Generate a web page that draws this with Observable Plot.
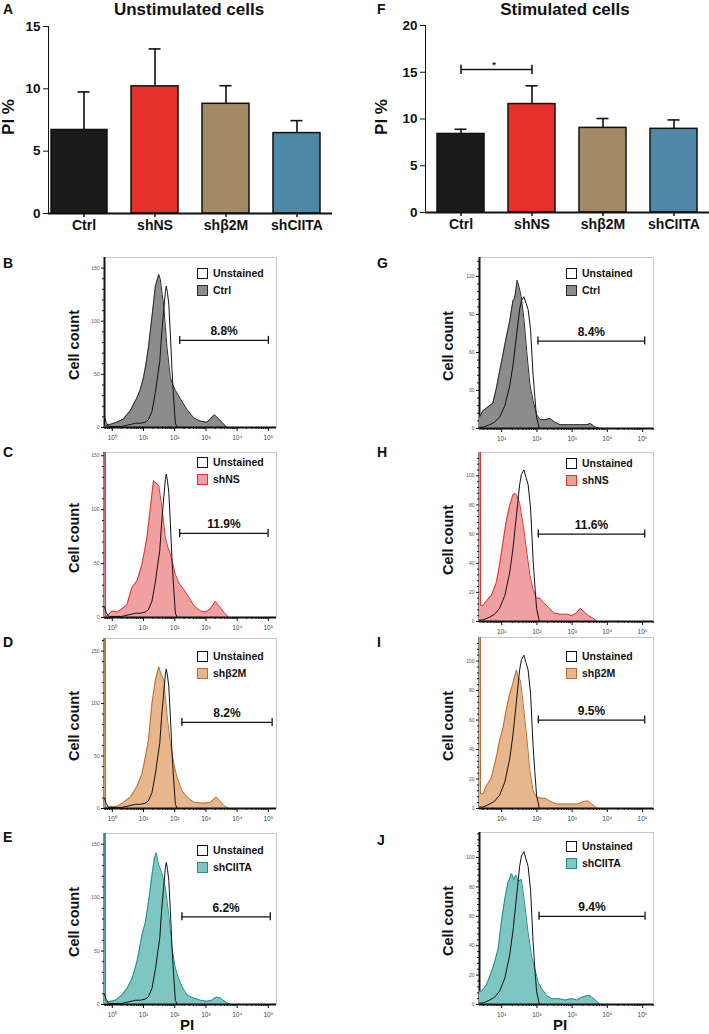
<!DOCTYPE html>
<html><head><meta charset="utf-8">
<script src="https://cdn.jsdelivr.net/npm/d3@7"></script>
<script src="https://cdn.jsdelivr.net/npm/@observablehq/plot@0.6"></script>
<style>
body{margin:0;background:#fff;font-family:"Liberation Sans",Arial,Helvetica,sans-serif;}
#fig{position:relative;width:709px;height:1034px;overflow:hidden;background:#fff;}
.t{position:absolute;font-weight:bold;color:#111;white-space:nowrap;line-height:1.2;}
.rot{transform:translate(-50%,-50%) rotate(-90deg);}
.ctr{transform:translate(-50%,-50%);}
.hc{transform:translateX(-50%);}
.leg{position:absolute;font-weight:bold;font-size:10.5px;color:#111;line-height:1;}
.leg .row{display:flex;align-items:center;height:11px;margin-bottom:6px;}
.leg .sw{width:9px;height:9px;border:1.5px solid #111;margin-right:5px;}
</style></head><body><div id="fig"></div>
<script>
// ---------------- DATA ----------------
const groups = ["Ctrl", "shNS", "shβ2M", "shCIITA"];
const barColors = ["#1b1b1b", "#e4312b", "#a38a67", "#4f87a7"];
const unstimMean = [6.7, 10.2, 8.8, 6.45];
const unstimSem = [3.05, 3.0, 1.45, 1.0];
const stimMean = [8.4, 11.6, 9.05, 8.95];
const stimSem = [0.5, 1.95, 1.0, 0.95];
const sigPair = ["Ctrl", "shNS"];
const sigLevel = 15.3;
const sigText = "*";

// histogram series: [log10(PI), cell count]
const unstainedUnstim = [[-0.25,10],[-0.2,5],[-0.12,1],[0.3,1],[0.6,3],[0.75,4],[0.9,4],[1.05,5],[1.15,7],[1.27,15],[1.38,33],[1.46,50],[1.52,62],[1.58,88],[1.64,108],[1.70,128],[1.73,133],[1.77,126],[1.81,116],[1.86,88],[1.91,55],[1.96,30],[2.02,4],[2.08,0]];
const ctrlUnstim = [[-0.25,2],[-0.22,2],[-0.06,3],[0.15,5],[0.36,8],[0.58,16],[0.79,28],[0.9,36],[1.0,47],[1.08,60],[1.16,76],[1.27,104],[1.38,133],[1.49,144],[1.54,139],[1.6,125],[1.65,114],[1.7,95],[1.75,76],[1.86,47],[1.94,40],[2.02,35],[2.18,27],[2.39,17],[2.61,9],[2.82,6],[3.03,5],[3.14,8],[3.27,12],[3.41,8],[3.57,3],[3.68,0]];
const shNSUnstim = [[-0.25,300],[-0.235,300],[-0.22,2],[-0.17,1.5],[-0.01,6],[0.15,5],[0.31,8],[0.47,12],[0.63,28],[0.79,34],[0.95,49],[1.11,74],[1.22,102],[1.32,127],[1.36,125],[1.40,125],[1.49,122],[1.59,102],[1.70,74],[1.78,65],[1.86,59],[2.02,40],[2.13,32],[2.29,26],[2.45,19],[2.61,11],[2.82,6],[2.98,5],[3.14,8],[3.30,15],[3.41,11],[3.57,5],[3.73,0]];
const shB2MUnstim = [[-0.25,300],[-0.235,300],[-0.22,1],[-0.12,2],[0.15,2],[0.36,6],[0.58,11],[0.79,21],[0.95,33],[1.06,49],[1.16,65],[1.27,100],[1.38,122],[1.49,135],[1.56,128],[1.65,122],[1.75,90],[1.86,62],[1.97,43],[2.07,30],[2.23,17],[2.39,11],[2.61,6],[2.93,5],[3.14,6],[3.33,11],[3.45,7],[3.57,3],[3.73,0]];
const shCIITAUnstim = [[-0.25,300],[-0.235,300],[-0.22,3],[-0.12,2.5],[0.10,4],[0.31,9],[0.47,15],[0.63,24],[0.79,40],[0.95,65],[1.06,77],[1.16,96],[1.27,121],[1.35,137],[1.41,142],[1.48,131],[1.59,123],[1.70,109],[1.81,84],[1.91,53],[2.02,34],[2.13,24],[2.23,17],[2.39,9],[2.61,6],[2.82,4],[3.03,3],[3.19,4],[3.33,7],[3.46,6],[3.62,2.5],[3.78,0]];

const unstainedStim = [[0.37,1],[0.47,1],[0.66,3],[0.80,5],[0.94,9],[1.09,18],[1.23,34],[1.32,50],[1.42,73],[1.51,94],[1.56,101],[1.63,104],[1.69,99],[1.75,94],[1.82,78],[1.89,43],[1.94,25],[1.99,9],[2.07,0]];
const ctrlStim = [[0.37,9],[0.47,14],[0.61,17],[0.75,20],[0.85,32],[0.94,45],[1.04,59],[1.13,72],[1.23,85],[1.32,101],[1.37,103],[1.44,117],[1.50,111],[1.56,103],[1.63,87],[1.71,61],[1.80,35],[1.89,22],[1.99,11],[2.09,7],[2.23,7],[2.37,8],[2.51,5],[2.66,3],[2.85,3],[3.04,3],[3.23,3],[3.42,3],[3.51,4],[3.66,1],[3.80,0]];
const shNSStim = [[0.37,300],[0.385,300],[0.40,11],[0.47,11],[0.56,14],[0.71,18],[0.85,27],[0.94,39],[1.04,55],[1.13,69],[1.23,80],[1.32,87],[1.38,88],[1.42,87],[1.47,84],[1.51,81],[1.61,66],[1.71,48],[1.80,32],[1.89,22],[1.99,16],[2.09,16],[2.18,13],[2.32,10],[2.47,6],[2.66,5],[2.85,5],[2.99,4],[3.13,6],[3.23,9],[3.32,7],[3.47,4],[3.61,2],[3.71,0]];
const shB2MStim = [[0.37,300],[0.385,300],[0.40,10],[0.47,10],[0.56,15],[0.71,21],[0.85,35],[0.94,46],[1.04,55],[1.13,67],[1.23,78],[1.32,85],[1.42,94],[1.47,89],[1.53,87],[1.61,71],[1.71,49],[1.80,26],[1.89,12],[1.99,8],[2.09,7],[2.23,7],[2.37,5],[2.56,3],[2.85,3],[3.13,3],[3.37,5],[3.46,5],[3.56,3],[3.71,0]];
const shCIITAStim = [[0.37,9],[0.42,9],[0.56,13],[0.71,22],[0.80,29],[0.90,38],[0.99,56],[1.09,72],[1.18,83],[1.28,89],[1.34,85],[1.40,88],[1.47,84],[1.56,85],[1.66,67],[1.75,49],[1.85,33],[1.94,24],[2.04,15],[2.13,11],[2.28,6],[2.42,4],[2.61,4],[2.80,3],[2.99,4],[3.13,3],[3.28,5],[3.42,6],[3.51,6],[3.66,3],[3.80,0]];

const histFill = ["#8c8c8c", "#f0a0a0", "#e8b68c", "#7ec6c1"];
const histStroke = ["#2a2a2a", "#e2312b", "#b86e2a", "#1f8f8a"];
const unstimGatePct = ["8.8%", "11.9%", "8.2%", "6.2%"];
const stimGatePct = ["8.4%", "11.6%", "9.5%", "9.4%"];
const unstimGateLo = [2.16, 2.16, 2.23, 2.23];
const unstimGateHi = [5.0, 4.99, 5.12, 5.06];
const unstimGateY = [82, 78, 82, 82];
const stimGateLo = [2.03, 2.04, 2.04, 2.06];
const stimGateHi = [5.06, 5.06, 5.06, 5.07];
const stimGateY = [69, 60, 60, 60];
const unstimYMax = [160, 153, 162, 160];
const stimYMax = [135, 116, 116, 117];
const unstimYTicks = [0, 50, 100, 150];
const stimYTicksG = [0, 30, 60, 90, 120];
const stimYTicks = [0, 20, 40, 60, 80, 100];

// ---------------- LAYOUT ----------------
const FONT = '"Liberation Sans", Arial, Helvetica, sans-serif';
const fig = document.getElementById("fig");
function put(node, left, top) {
  node.style.position = "absolute"; node.style.left = left + "px"; node.style.top = top + "px";
  fig.appendChild(node); return node;
}
function txt(s, left, top, size, cls) {
  const d = document.createElement("div"); d.className = "t " + (cls || "");
  d.textContent = s; d.style.fontSize = size + "px"; return put(d, left, top);
}
const SUP = {"-1": "⁻¹", "0": "⁰", "1": "¹", "2": "²", "3": "³", "4": "⁴", "5": "⁵"};

function barPlot(means, sems, yMax, yTicks, opts) {
  const rows = groups.map((g, i) => ({group: g, mean: means[i], top: means[i] + sems[i]}));
  const marks = [
    Plot.ruleX(rows, {x: "group", y1: "mean", y2: "top", stroke: "#111", strokeWidth: 1.6}),
    Plot.tickY(rows, {x: "group", y: "top", stroke: "#111", strokeWidth: 1.6, insetLeft: 17.5, insetRight: 17.5}),
  ];
  if (opts.widenFirst) {
    marks.push(Plot.barY(rows.filter(d => d.group === groups[0]), {x: "group", y: "mean", fill: "group", stroke: "#111", strokeWidth: 1.5, insetLeft: -opts.widenFirst}));
    marks.push(Plot.barY(rows.filter(d => d.group !== groups[0]), {x: "group", y: "mean", fill: "group", stroke: "#111", strokeWidth: 1.5}));
  } else {
    marks.push(Plot.barY(rows, {x: "group", y: "mean", fill: "group", stroke: "#111", strokeWidth: 1.5}));
  }
  if (opts.sig) {
    marks.push(Plot.link([0], {x1: () => sigPair[0], x2: () => sigPair[1], y1: sigLevel, y2: sigLevel, stroke: "#111", strokeWidth: 1.5}));
    marks.push(Plot.ruleX(sigPair, {x: d => d, y1: sigLevel - 0.55, y2: sigLevel + 0.45, stroke: "#111", strokeWidth: 1.5}));
    marks.push(Plot.text([sigText], {x: () => sigPair[0], y: sigLevel, dx: 33, dy: -4, fontSize: 9, fill: "#111"}));
  }
  marks.push(Plot.ruleY([0], {stroke: "#111", strokeWidth: 1.8}));
  marks.push(Plot.axisX({tickSize: 4, tickPadding: 3, fontSize: 14, fontWeight: "bold", label: null, stroke: "#111", strokeWidth: 1.5}));
  return Plot.plot({
    width: opts.width, height: 221,
    marginLeft: 40, marginRight: opts.width - 40 - 284, marginTop: 10, marginBottom: 24,
    x: {domain: groups, paddingInner: 0.34, paddingOuter: 0.17, label: null},
    y: {domain: [0, yMax], ticks: yTicks, label: null, tickSize: 5, tickPadding: 3, line: true},
    color: {domain: groups, range: barColors},
    style: {fontFamily: FONT, fontSize: "13.5px", fontWeight: "bold", color: "#111", background: "transparent", overflow: "visible"},
    marks
  });
}

function histPlot(c) {
  const mL = 30, mR = 2, mT = 2, mB = 24;
  const majors = [], minors = [];
  for (let e = Math.floor(c.lo); e <= Math.ceil(c.hi); e++) {
    if (e >= c.lo && e <= c.hi) majors.push(10 ** e);
    for (let k = 2; k <= 9; k++) {
      const l = Math.log10(k * 10 ** e);
      if (l >= c.lo && l <= c.hi) minors.push(k * 10 ** e);
    }
  }
  const yMinor = d3.range(0, c.yMax, c.ySub).filter(v => !c.yTicks.includes(v));
  const X = d => 10 ** d[0], Y = d => d[1];
  return Plot.plot({
    width: mL + c.w + mR, height: mT + c.h + mB,
    marginLeft: mL, marginRight: mR, marginTop: mT, marginBottom: mB,
    x: {type: "log", domain: [10 ** c.lo, 10 ** c.hi]},
    y: {domain: [0, c.yMax]},
    style: {fontFamily: FONT, background: "transparent", overflow: "visible"},
    marks: [
      Plot.frame({stroke: "#c8c8c8", strokeWidth: 1}),
      Plot.ruleX([10 ** c.lo], {stroke: "#111", strokeWidth: 2}),
      Plot.areaY(c.sample, {x: X, y: Y, fill: c.fill, curve: "linear", clip: true}),
      Plot.lineY(c.sample, {x: X, y: Y, stroke: c.stroke, strokeWidth: 1, clip: true}),
      Plot.lineY(c.unstained, {x: X, y: Y, stroke: "#111", strokeWidth: 1, clip: true}),
      Plot.ruleY([0], {stroke: "#111", strokeWidth: 1.8}),
      Plot.axisY({ticks: c.yTicks, tickSize: 3, tickPadding: 2, fontSize: 5, fill: "#555", stroke: "#111", label: null}),
      Plot.axisY({ticks: yMinor, tickSize: 2, tickFormat: () => "", stroke: "#111", label: null}),
      Plot.axisX({ticks: majors, tickSize: 4, tickPadding: 4, fontSize: 6.5, fill: "#444", stroke: "#111", label: null,
        tickFormat: v => "10" + SUP[String(Math.round(Math.log10(v)))]}),
      Plot.axisX({ticks: minors, tickSize: 2, tickFormat: () => "", stroke: "#111", label: null}),
      Plot.ruleY([c.gY], {x1: 10 ** c.gLo, x2: 10 ** c.gHi, stroke: "#111", strokeWidth: 1.3}),
      Plot.ruleX([c.gLo, c.gHi], {x: d => 10 ** d, y1: c.gY, y2: c.gY, insetTop: -4, insetBottom: -4, stroke: "#111", strokeWidth: 1.3}),
      Plot.text([c.gText], {x: 10 ** ((c.gLo + c.gHi) / 2), y: c.gY, dy: -9, fontSize: 12, fontWeight: "bold", fill: "#111"})
    ]
  });
}

function legend(sample, fill, stroke, left, top) {
  const d = document.createElement("div"); d.className = "leg";
  d.innerHTML = `<div class="row"><div class="sw" style="background:#fff"></div><span>Unstained</span></div>` +
    `<div class="row"><div class="sw" style="background:${fill};border-color:${stroke}"></div><span>${sample}</span></div>`;
  put(d, left, top);
}

// ---- bar charts ----
put(barPlot(unstimMean, unstimSem, 15, [0, 5, 10, 15], {width: 326, widenFirst: 9}), 8, 16);
put(barPlot(stimMean, stimSem, 20, [0, 5, 10, 15, 20], {width: 324, sig: true}), 385, 15);
txt("A", 3, 1, 14); txt("F", 377, 1, 14);
txt("Unstimulated cells", 189, 0, 17, "hc");
txt("Stimulated cells", 565, 0, 17, "hc");
txt("PI %", 9, 117, 17, "rot"); txt("PI %", 382, 117, 17, "rot");

// ---- histograms ----
const leftSamples = [ctrlUnstim, shNSUnstim, shB2MUnstim, shCIITAUnstim];
const rightSamples = [ctrlStim, shNSStim, shB2MStim, shCIITAStim];
const leftRows = [[257, 427], [452, 617], [638, 808], [833, 1004]];
const rightRows = [[257, 428], [452, 621], [637, 808], [832, 1004]];
const leftLetters = ["B", "C", "D", "E"], rightLetters = ["G", "H", "I", "J"];
const leftLetterTop = [255, 444, 634, 829], rightLetterTop = [255, 444, 634, 832];
const leftLegTop = [268, 457, 651, 845], rightLegTop = [268, 458, 651, 841];

for (let i = 0; i < 4; i++) {
  const [t, b] = leftRows[i];
  put(histPlot({lo: -0.25, hi: 5.26, w: 172, h: b - t, yMax: unstimYMax[i], yTicks: unstimYTicks, ySub: 10,
    sample: leftSamples[i], unstained: unstainedUnstim, fill: histFill[i], stroke: histStroke[i],
    gLo: unstimGateLo[i], gHi: unstimGateHi[i], gY: unstimGateY[i], gText: unstimGatePct[i]}), 104 - 30, t - 2);
  legend(groups[i], histFill[i], histStroke[i], 197, leftLegTop[i]);
  txt(leftLetters[i], 3, leftLetterTop[i], 14);
  txt("Cell count", 75, (t + b) / 2 + 3, 14.5, "rot");

  const [t2, b2] = rightRows[i];
  put(histPlot({lo: 0.37, hi: 5.31, w: 174, h: b2 - t2, yMax: stimYMax[i], yTicks: i === 0 ? stimYTicksG : stimYTicks, ySub: i === 0 ? 6 : 4,
    sample: rightSamples[i], unstained: unstainedStim, fill: histFill[i], stroke: histStroke[i],
    gLo: stimGateLo[i], gHi: stimGateHi[i], gY: stimGateY[i], gText: stimGatePct[i]}), 479 - 30, t2 - 2);
  legend(groups[i], histFill[i], histStroke[i], 566, rightLegTop[i]);
  txt(rightLetters[i], 377, rightLetterTop[i], 14);
  txt("Cell count", 449, (t2 + b2) / 2 + 3, 14.5, "rot");
}
txt("PI", 187, 1025, 15, "ctr"); txt("PI", 560, 1025, 15, "ctr");
</script></body></html>
